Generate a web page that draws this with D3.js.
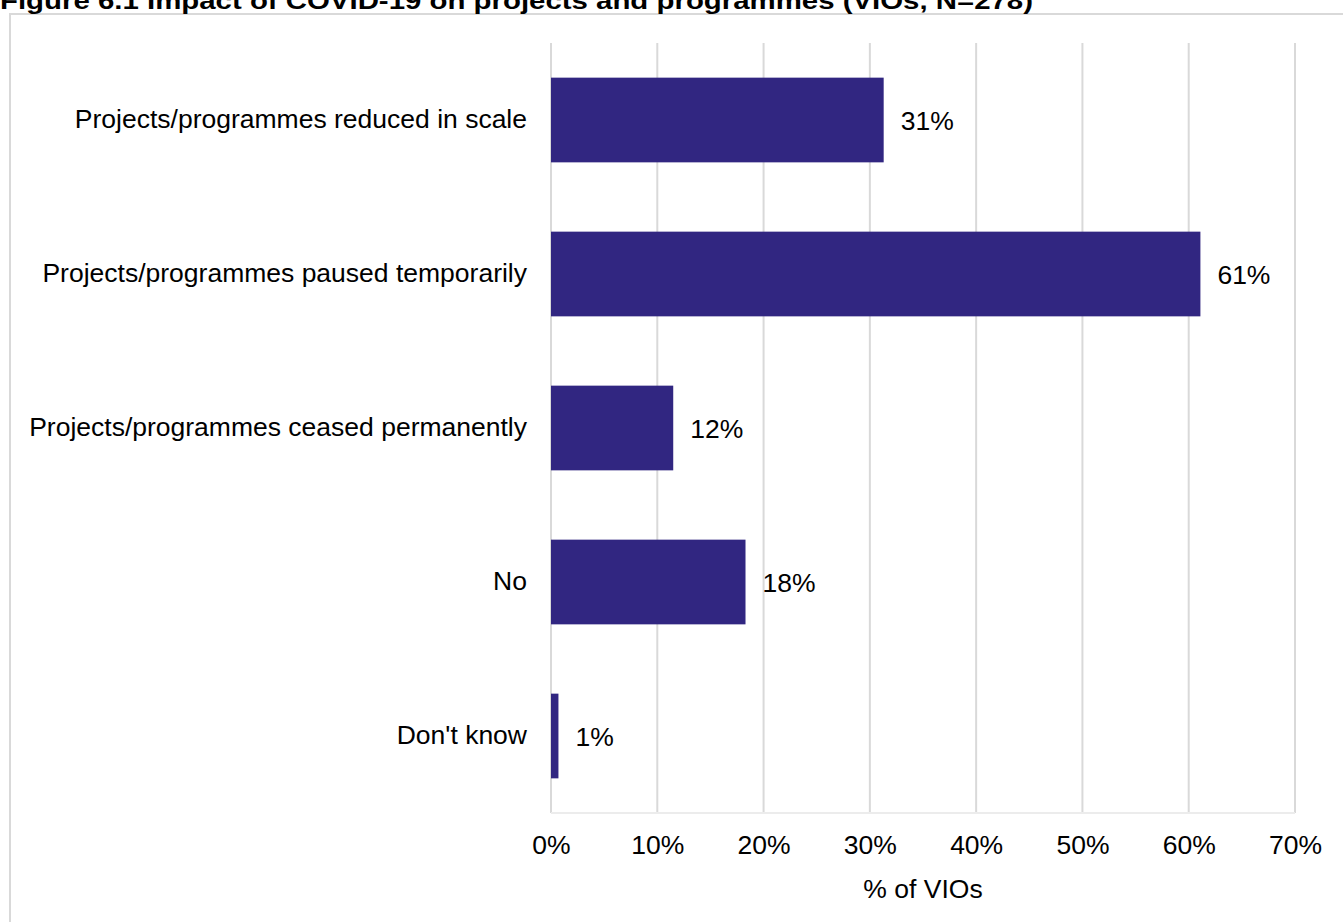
<!DOCTYPE html>
<html>
<head>
<meta charset="utf-8">
<script src="https://cdn.jsdelivr.net/npm/d3@7"></script>
<style>
  html, body { margin: 0; padding: 0; background: #fff; }
  svg { display: block; }
  text { font-family: "Liberation Sans", Arial, sans-serif; fill: #000; }
</style>
</head>
<body>
<svg id="chart" width="1343" height="922"></svg>
<script>
// Survey responses: share of VIOs reporting each impact
const categories = [
  "Projects/programmes reduced in scale",
  "Projects/programmes paused temporarily",
  "Projects/programmes ceased permanently",
  "No",
  "Don't know"
];
const shares = [0.313, 0.611, 0.115, 0.183, 0.007];
const tickValues = [0, 0.1, 0.2, 0.3, 0.4, 0.5, 0.6, 0.7];

const titleText = "Figure 6.1 Impact of COVID-19 on projects and programmes (VIOs, N=278)";
const axisTitle = "% of VIOs";

const svg = d3.select("#chart");
const W = 1343, H = 922;
const FS = 26.5;

// outer frame
svg.append("path")
  .attr("d", `M10,${H} V14 H${W}`)
  .attr("fill", "none")
  .attr("stroke", "#d9d9d9")
  .attr("stroke-width", 2);

// title (partly clipped by the top edge)
svg.append("text")
  .attr("x", 0)
  .attr("y", 9)
  .attr("font-size", 24)
  .attr("font-weight", "bold")
  .style("font-family", "'Liberation Sans Narrow', 'Liberation Sans', Arial, sans-serif")
  .attr("textLength", 1033)
  .attr("lengthAdjust", "spacingAndGlyphs")
  .text(titleText);

const plot = { left: 551, right: 1295, top: 43, bottom: 813 };

const x = d3.scaleLinear().domain([0, 0.7]).range([plot.left, plot.right]);
const y = d3.scaleBand()
  .domain(categories)
  .range([plot.top, plot.bottom])
  .paddingInner(0.45)
  .paddingOuter(0.225);

// vertical gridlines
svg.append("g")
  .selectAll("line")
  .data(tickValues)
  .join("line")
  .attr("x1", d => x(d)).attr("x2", d => x(d))
  .attr("y1", plot.top).attr("y2", plot.bottom)
  .attr("stroke", "#d9d9d9")
  .attr("stroke-width", 2);

// faint baseline along the bottom
svg.append("line")
  .attr("x1", plot.left).attr("x2", plot.right)
  .attr("y1", plot.bottom).attr("y2", plot.bottom)
  .attr("stroke", "#ececec")
  .attr("stroke-width", 2);

const rows = categories.map((c, i) => ({ c, v: shares[i] }));

// bars
svg.append("g")
  .selectAll("rect")
  .data(rows)
  .join("rect")
  .attr("x", x(0))
  .attr("y", d => y(d.c))
  .attr("width", d => x(d.v) - x(0))
  .attr("height", y.bandwidth())
  .attr("fill", "#312681");

// value labels
const pct = d3.format(".0%");
svg.append("g")
  .selectAll("text")
  .data(rows)
  .join("text")
  .attr("x", d => x(d.v) + 17)
  .attr("y", d => y(d.c) + y.bandwidth() / 2)
  .attr("dy", "0.36em")
  .attr("font-size", FS)
  .text(d => pct(d.v));

// category axis labels
const yAxis = d3.axisLeft(y).tickSize(0).tickPadding(24);
const gy = svg.append("g").attr("transform", `translate(${plot.left},0)`).call(yAxis);
gy.select(".domain").remove();
gy.selectAll("text")
  .attr("font-size", FS)
  .attr("fill", "#000")
  .style("font-family", "'Liberation Sans', Arial, sans-serif");

// x-axis tick labels
const xAxis = d3.axisBottom(x).tickValues(tickValues).tickFormat(d3.format(".0%")).tickSize(0).tickPadding(22);
const gx = svg.append("g").attr("transform", `translate(0,${plot.bottom})`).call(xAxis);
gx.select(".domain").remove();
gx.selectAll("text")
  .attr("font-size", FS)
  .attr("fill", "#000")
  .style("font-family", "'Liberation Sans', Arial, sans-serif");

// axis title
svg.append("text")
  .attr("x", (plot.left + plot.right) / 2)
  .attr("y", 898)
  .attr("text-anchor", "middle")
  .attr("font-size", FS)
  .text(axisTitle);
</script>
</body>
</html>
